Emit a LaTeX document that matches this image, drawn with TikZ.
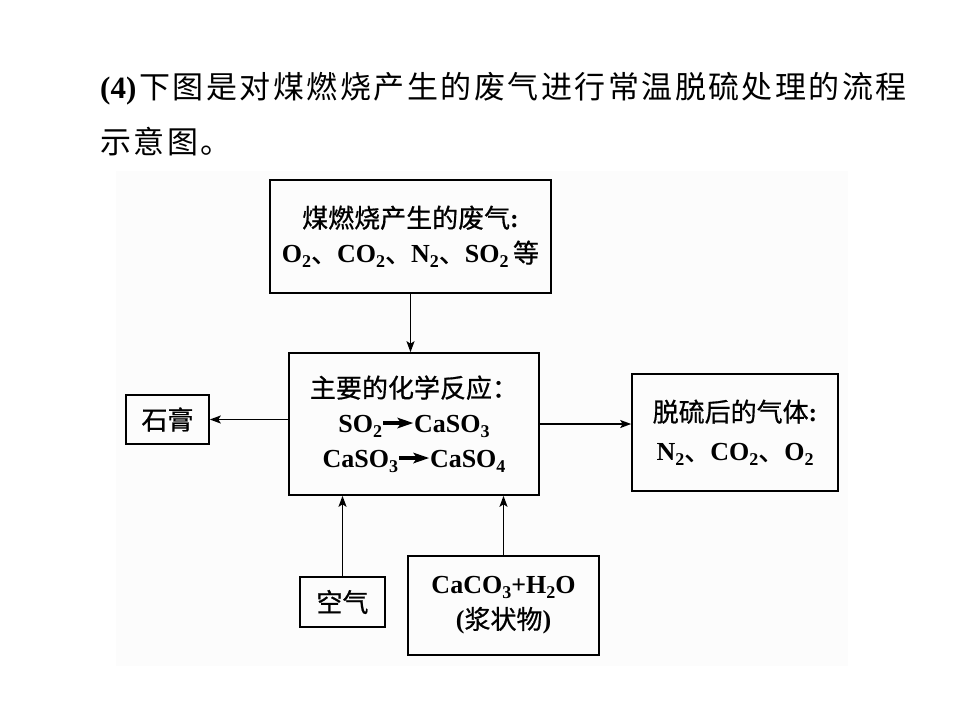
\documentclass[tikz,border=0pt]{standalone}
\usepackage{fontspec}
\setmainfont{Liberation Serif}
\newfontfamily\cjk[FakeBold=0.7]{Noto Sans CJK SC}
\newfontfamily\cjktitle[LetterSpace=8]{Noto Sans CJK SC}
\usetikzlibrary{arrows.meta}
\newcommand\chsub[1]{\raisebox{-0.4ex}{\fontsize{18}{18}\selectfont #1}}
\newcommand\rxarrow{\kern1pt\tikz[baseline=-0.8ex]{\fill (0pt,-1.6pt) rectangle (18pt,1.6pt);\fill (30pt,0pt) -- (14pt,-5.5pt) -- (18pt,0pt) -- (14pt,5.5pt) -- cycle;}\kern1pt}
\newcommand\cj[1]{{\cjk\mdseries #1}}
\newcommand\dun{\cj{、}}
\tikzset{
  box/.style={draw, line width=1.6pt, inner sep=0pt, align=center,
    font=\bfseries\fontsize{26}{35}\selectfont},
  arr/.style={line width=1.7pt, -{Stealth[length=11pt,width=8pt,inset=2.5pt]}}
}
\begin{document}
\begin{tikzpicture}[x=1pt,y=-1pt]
\useasboundingbox (0,0) rectangle (960,720);
\fill[black!1.2] (116,171) rectangle (848,666);
\node[anchor=base west, inner sep=0pt, font=\fontsize{31}{31}\selectfont] (t1) at (100,98)
  {\textbf{(4)}\kern3pt{\cjktitle 下图是对煤燃烧产生的废气进行常温脱硫处理的流程}};
\node[anchor=base west, inner sep=0pt, font=\fontsize{31}{31}\selectfont] (t2) at (100,153)
  {{\cjktitle 示意图。}};
\node[box, minimum width=281, minimum height=113] (top) at (410.5,236.5)
  {\cj{煤燃烧产生的废气}:\\O\chsub{2}\dun CO\chsub{2}\dun N\chsub{2}\dun SO\chsub{2}\,\cj{等}};
\node[box, minimum width=250, minimum height=142] (mid) at (414,424)
  {\cj{主要的化学反应：}\\SO\chsub{2}\rxarrow CaSO\chsub{3}\\CaSO\chsub{3}\rxarrow CaSO\chsub{4}};
\node[box, minimum width=83, minimum height=49] (gyp) at (167.5,419.5)
  {\cj{石膏}};
\node[box, minimum width=206, minimum height=117, font=\bfseries\fontsize{26}{39}\selectfont] (out) at (735,432.5)
  {\cj{脱硫后的气体}:\\N\chsub{2}\dun CO\chsub{2}\dun O\chsub{2}};
\node[box, minimum width=85, minimum height=50] (air) at (342.5,602)
  {\cj{空气}};
\node[box, minimum width=191, minimum height=99] (caco) at (503.5,605.5)
  {CaCO\chsub{3}+H\chsub{2}O\\(\cj{浆状物})};
\draw[arr] (top.south) -- (top.south |- mid.north);
\draw[arr] (mid.west |- gyp.east) -- (gyp.east);
\draw[arr] (mid.east) -- (mid.east -| out.west);
\draw[arr] (air.north) -- (air.north |- mid.south);
\draw[arr] (caco.north) -- (caco.north |- mid.south);
\end{tikzpicture}
\end{document}
